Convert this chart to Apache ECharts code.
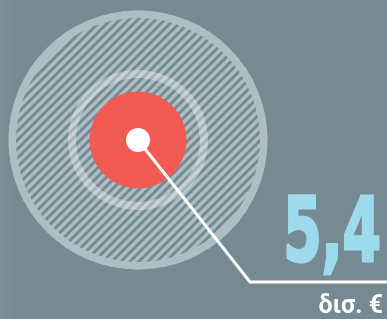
<!DOCTYPE html>
<html><head><meta charset="utf-8">
<script src="https://cdn.jsdelivr.net/npm/echarts@6/dist/echarts.min.js"></script>
<style>html,body{margin:0;padding:0;background:#768a94;}#c{width:387px;height:319px;}</style>
</head><body><div id="c"></div>
<script>
// data
var valueLabel = ['5,4'];
var unitLabel = ['δισ. €'];
var rings = [1];

var BG = '#768a94', LIGHT = '#adbec5', RED = '#f25a54', BLUE = '#9ddbec';
var cx = 138, cy = 140;

// stripe pattern (lines x + y = k*P)
var P = 9;
var cv = document.createElement('canvas');
cv.width = P; cv.height = P;
var g = cv.getContext('2d');
g.fillStyle = BG; g.fillRect(0,0,P,P);
g.strokeStyle = LIGHT; g.lineWidth = 3.4;
for (var k = 0; k <= 2; k++) {
  g.beginPath(); g.moveTo(k*P + 1, -1); g.lineTo(-1, k*P + 1); g.stroke();
}

function disc(r0, r1, color, z) {
  return {
    type: 'pie', center: [cx, cy], radius: [r0, r1], silent: true, z: z,
    label: {show: false}, labelLine: {show: false}, animation: false,
    itemStyle: {color: color, borderWidth: 0},
    data: rings.map(function (v) { return {value: v}; })
  };
}

var chart = echarts.init(document.getElementById('c'), null, {renderer: 'canvas'});
var lineEnd = [250, 282];
chart.setOption({
  backgroundColor: {type: 'linear', x: 0, y: 0, x2: 1, y2: 0,
    colorStops: [{offset: 0, color: '#7d919b'}, {offset: 0.04, color: BG}, {offset: 1, color: BG}]},
  animation: false,
  series: [
    disc(0, 129.5, {image: cv, repeat: 'repeat'}, 1),
    disc(122, 129.5, LIGHT, 2),
    disc(62, 70, 'rgba(255,255,255,0.35)', 3),
    disc(0, 48.5, RED, 4),
    disc(0, 12, '#ffffff', 6)
  ],
  graphic: [
    {type: 'polyline', z: 5, shape: {points: [[cx, cy], lineEnd, [387, lineEnd[1]]]},
     style: {stroke: '#ffffff', lineWidth: 3, fill: null}},
    {type: 'text', z: 7, x: 381, y: 282, scaleX: 0.69,
     style: {text: valueLabel[0], fill: BLUE, stroke: BLUE, lineWidth: 3, align: 'right', verticalAlign: 'bottom',
       font: 'bold 89px "DejaVu Sans Condensed", sans-serif'}},
    {type: 'text', z: 7, x: 383, y: 319,
     style: {text: unitLabel[0], fill: '#ffffff', align: 'right', verticalAlign: 'bottom',
       font: 'bold 25px Roboto, sans-serif'}}
  ]
});
</script></body></html>
